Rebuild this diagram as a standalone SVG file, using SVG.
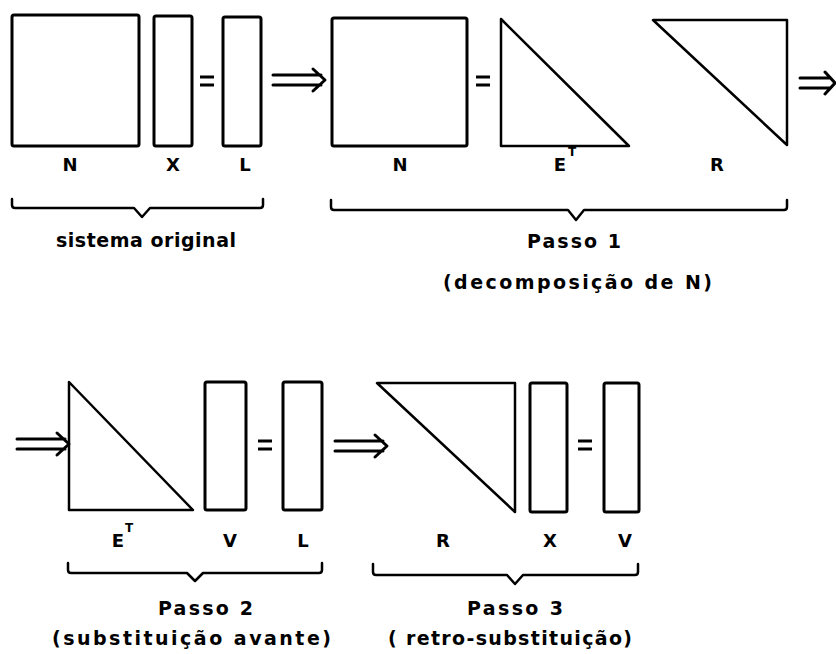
<svg xmlns="http://www.w3.org/2000/svg" width="836" height="654" viewBox="0 0 836 654">
<style>
.m{fill:none;stroke:#000;stroke-width:3;stroke-linejoin:round}
.t{fill:none;stroke:#000;stroke-width:2.5;stroke-linejoin:round}
.b{fill:none;stroke:#000;stroke-width:2.5;stroke-linejoin:round;stroke-linecap:round}
.lb{font-family:"DejaVu Sans","Liberation Sans",Arial,sans-serif;font-weight:bold;font-size:18px;fill:#000;text-anchor:middle}
.sup{font-family:"DejaVu Sans","Liberation Sans",Arial,sans-serif;font-weight:bold;font-size:12px;fill:#000}
.tx{font-family:"DejaVu Sans","Liberation Sans",Arial,sans-serif;font-weight:bold;font-size:19px;fill:#000}
</style>
<defs>
<g id="dbl" fill="none" stroke="#000" stroke-width="3" stroke-linecap="round" stroke-linejoin="round">
<path d="M0,-5 H48 M0,5 H48 M40,-11 L52,0 L40,11"/>
</g>
<g id="eq" stroke="#000" stroke-width="3">
<path d="M0,-4 H14 M0,4 H14"/>
</g>
</defs>
<rect width="836" height="654" fill="#fff"/>

<g id="sistema-original">
<rect id="N1" class="m" x="12" y="15" width="127" height="131" rx="2"/>
<rect id="X1" class="m" x="154" y="16" width="38" height="130" rx="2"/>
<use href="#eq" x="200" y="81"/>
<rect id="L1" class="m" x="223" y="17" width="38" height="129" rx="2"/>
<text class="lb" x="70" y="171">N</text>
<text class="lb" x="173" y="171">X</text>
<text class="lb" x="245" y="171">L</text>
<path class="b" d="M12,199 V205 Q12,208 15,208 H134 L142,217 L150,208 H260 Q263,208 263,205 V199"/>
<text class="tx" x="56" y="247" textLength="180" lengthAdjust="spacing">sistema original</text>
</g>

<g id="passo1">
<rect id="N2" class="m" x="332" y="18" width="135" height="128" rx="2"/>
<use href="#eq" x="476" y="81"/>
<path id="ET1" class="t" d="M501,19 V146 H629 Z"/>
<path id="R1" class="t" d="M653,20 H787 V145 Z"/>
<text class="lb" x="400" y="171">N</text>
<text class="lb" x="560" y="171">E</text>
<text class="sup" x="568" y="156">T</text>
<text class="lb" x="717" y="171">R</text>
<path class="b" d="M331,200 V207 Q331,210 334,210 H568 L576,220 L584,210 H784 Q787,210 787,207 V200"/>
<text class="tx" x="527" y="248" textLength="94" lengthAdjust="spacing">Passo 1</text>
<text class="tx" x="443" y="289" textLength="269" lengthAdjust="spacing">(decomposição de  N)</text>
</g>

<g id="passo2">
<path id="ET2" class="t" d="M69,382 V510 H193 Z"/>
<rect id="V2" class="m" x="205" y="382" width="41" height="128" rx="2"/>
<use href="#eq" x="258" y="445"/>
<rect id="L2" class="m" x="283" y="382" width="39" height="128" rx="2"/>
<text class="lb" x="118" y="547">E</text>
<text class="sup" x="125" y="532">T</text>
<text class="lb" x="230" y="547">V</text>
<text class="lb" x="303" y="547">L</text>
<path class="b" d="M68,563 V570 Q68,573 71,573 H187 L195,581 L203,573 H319 Q322,573 322,570 V563"/>
<text class="tx" x="158" y="615" textLength="95" lengthAdjust="spacing">Passo 2</text>
<text class="tx" x="52" y="645" textLength="279" lengthAdjust="spacing">(substituição avante)</text>
</g>

<g id="passo3">
<path id="R3" class="t" d="M377,383 H515 V512 Z"/>
<rect id="X3" class="m" x="530" y="383" width="37" height="129" rx="2"/>
<use href="#eq" x="578" y="445"/>
<rect id="V3" class="m" x="604" y="383" width="35" height="129" rx="2"/>
<text class="lb" x="443" y="547">R</text>
<text class="lb" x="550" y="547">X</text>
<text class="lb" x="625" y="547">V</text>
<path class="b" d="M373,564 V572 Q373,575 376,575 H507 L515,584 L523,575 H635 Q638,575 638,572 V564"/>
<text class="tx" x="467" y="615" textLength="96" lengthAdjust="spacing">Passo 3</text>
<text class="tx" x="388" y="645" textLength="244" lengthAdjust="spacing">( retro-substituição)</text>
</g>

<g id="connectors">
<use href="#dbl" x="273" y="80"/>
<path d="M800,78 H830 M800,88 H830 M825,72 L835,83 L825,94" fill="none" stroke="#000" stroke-width="3" stroke-linecap="round" stroke-linejoin="round"/>
<use href="#dbl" x="17" y="444"/>
<use href="#dbl" x="335" y="446"/>
</g>
</svg>
